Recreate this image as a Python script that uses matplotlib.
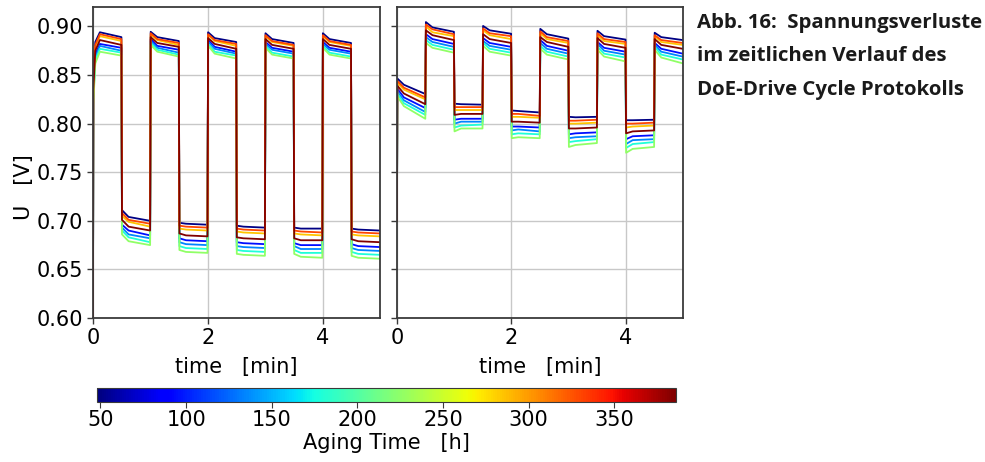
import matplotlib
matplotlib.use("Agg")
import matplotlib.pyplot as plt
import numpy as np
from matplotlib import cm, colors

# ---------------- data ----------------
aging_h = [50, 95, 135, 180, 225, 285, 330, 385]
cbar_ticks = [50, 100, 150, 200, 250, 300, 350]
y_ticks = [0.60, 0.65, 0.70, 0.75, 0.80, 0.85, 0.90]
x_ticks = [0, 2, 4]

t_left = [0, 0.005, 0.04, 0.12, 0.495, 0.505, 0.62, 0.995, 1.005, 1.12, 1.495,
          1.505, 1.62, 1.995, 2.005, 2.12, 2.495, 2.505, 2.62, 2.995, 3.005, 3.12,
          3.495, 3.505, 3.62, 3.995, 4.005, 4.12, 4.495, 4.505, 4.62, 4.995]

left_050 = [0.59, 0.845, 0.884, 0.894, 0.889, 0.711, 0.704, 0.700, 0.8945, 0.889, 0.885,
            0.698, 0.697, 0.696, 0.894, 0.888, 0.884, 0.695, 0.694, 0.693, 0.893, 0.887,
            0.883, 0.693, 0.692, 0.692, 0.893, 0.887, 0.883, 0.692, 0.691, 0.690]
left_095 = [0.59, 0.831, 0.871, 0.882, 0.878, 0.696, 0.690, 0.685, 0.887, 0.880, 0.876,
            0.682, 0.680, 0.679, 0.886, 0.879, 0.874, 0.678, 0.677, 0.676, 0.884, 0.878,
            0.874, 0.677, 0.675, 0.675, 0.884, 0.878, 0.874, 0.676, 0.674, 0.673]
left_135 = [0.59, 0.827, 0.868, 0.880, 0.875, 0.693, 0.686, 0.682, 0.885, 0.878, 0.873,
            0.678, 0.676, 0.675, 0.884, 0.877, 0.872, 0.674, 0.673, 0.672, 0.882, 0.876,
            0.872, 0.674, 0.671, 0.671, 0.882, 0.876, 0.872, 0.672, 0.670, 0.669]
left_180 = [0.59, 0.824, 0.865, 0.877, 0.873, 0.690, 0.683, 0.678, 0.883, 0.876, 0.871,
            0.674, 0.672, 0.671, 0.882, 0.874, 0.870, 0.670, 0.669, 0.668, 0.880, 0.873,
            0.869, 0.670, 0.667, 0.667, 0.880, 0.873, 0.869, 0.668, 0.666, 0.665]
left_225 = [0.59, 0.820, 0.862, 0.874, 0.870, 0.686, 0.679, 0.675, 0.881, 0.874, 0.869,
            0.670, 0.668, 0.667, 0.880, 0.872, 0.867, 0.666, 0.665, 0.664, 0.878, 0.871,
            0.867, 0.666, 0.663, 0.662, 0.878, 0.871, 0.867, 0.664, 0.662, 0.661]
left_285 = [0.59, 0.840, 0.879, 0.890, 0.885, 0.705, 0.699, 0.694, 0.8915, 0.886, 0.881,
            0.692, 0.691, 0.690, 0.891, 0.885, 0.880, 0.689, 0.688, 0.687, 0.890, 0.884,
            0.880, 0.687, 0.686, 0.685, 0.890, 0.884, 0.880, 0.686, 0.685, 0.684]
left_330 = [0.59, 0.842, 0.881, 0.892, 0.887, 0.708, 0.701, 0.697, 0.893, 0.887, 0.883,
            0.695, 0.694, 0.693, 0.892, 0.886, 0.882, 0.692, 0.691, 0.690, 0.891, 0.885,
            0.881, 0.690, 0.689, 0.688, 0.891, 0.885, 0.881, 0.689, 0.688, 0.687]
left_385 = [0.59, 0.835, 0.875, 0.886, 0.881, 0.701, 0.694, 0.690, 0.889, 0.883, 0.879,
            0.687, 0.685, 0.684, 0.888, 0.882, 0.877, 0.683, 0.682, 0.681, 0.887, 0.881,
            0.877, 0.682, 0.680, 0.680, 0.887, 0.881, 0.877, 0.681, 0.679, 0.678]

t_right = [0, 0.005, 0.12, 0.495, 0.505, 0.62, 0.995, 1.005, 1.12, 1.495, 1.505, 1.62,
           1.995, 2.005, 2.12, 2.495, 2.505, 2.62, 2.995, 3.005, 3.12, 3.495, 3.505,
           3.62, 3.995, 4.005, 4.12, 4.495, 4.505, 4.62, 4.995]

right_050 = [0.700, 0.8465, 0.840, 0.8305, 0.9045, 0.899, 0.8945, 0.8205, 0.820, 0.8195,
             0.9005, 0.896, 0.8925, 0.8135, 0.813, 0.8115, 0.8975, 0.892, 0.8875, 0.807,
             0.8065, 0.807, 0.8955, 0.890, 0.8865, 0.8035, 0.8035, 0.804, 0.8935, 0.889, 0.886]
right_095 = [0.700, 0.836, 0.827, 0.816, 0.892, 0.887, 0.882, 0.804, 0.805, 0.805, 0.888,
             0.883, 0.879, 0.797, 0.797, 0.796, 0.886, 0.880, 0.875, 0.789, 0.790, 0.791,
             0.884, 0.878, 0.874, 0.784, 0.787, 0.788, 0.883, 0.877, 0.872]
right_135 = [0.700, 0.833, 0.824, 0.812, 0.889, 0.884, 0.879, 0.800, 0.802, 0.802, 0.885,
             0.880, 0.876, 0.793, 0.794, 0.792, 0.883, 0.877, 0.872, 0.785, 0.786, 0.787,
             0.882, 0.875, 0.871, 0.779, 0.783, 0.784, 0.881, 0.874, 0.869]
right_180 = [0.700, 0.831, 0.821, 0.809, 0.886, 0.881, 0.876, 0.796, 0.798, 0.799, 0.883,
             0.877, 0.873, 0.789, 0.790, 0.789, 0.880, 0.874, 0.869, 0.781, 0.782, 0.784,
             0.879, 0.872, 0.868, 0.775, 0.779, 0.781, 0.879, 0.871, 0.866]
right_225 = [0.700, 0.828, 0.818, 0.805, 0.883, 0.878, 0.873, 0.792, 0.795, 0.795, 0.880,
             0.874, 0.870, 0.785, 0.786, 0.785, 0.877, 0.871, 0.866, 0.776, 0.778, 0.780,
             0.876, 0.869, 0.864, 0.770, 0.774, 0.776, 0.876, 0.868, 0.862]
right_285 = [0.700, 0.842, 0.835, 0.825, 0.900, 0.894, 0.890, 0.814, 0.814, 0.814, 0.896,
             0.891, 0.887, 0.807, 0.807, 0.806, 0.893, 0.887, 0.883, 0.800, 0.800, 0.801,
             0.891, 0.885, 0.882, 0.796, 0.797, 0.798, 0.890, 0.884, 0.881]
right_330 = [0.700, 0.844, 0.837, 0.827, 0.902, 0.897, 0.892, 0.817, 0.817, 0.817, 0.898,
             0.893, 0.890, 0.810, 0.810, 0.808, 0.895, 0.889, 0.885, 0.803, 0.803, 0.804,
             0.893, 0.887, 0.884, 0.800, 0.800, 0.801, 0.891, 0.886, 0.883]
right_385 = [0.700, 0.839, 0.831, 0.820, 0.896, 0.891, 0.886, 0.809, 0.810, 0.810, 0.892,
             0.887, 0.883, 0.802, 0.802, 0.801, 0.889, 0.884, 0.879, 0.795, 0.795, 0.796,
             0.888, 0.882, 0.878, 0.790, 0.792, 0.793, 0.887, 0.881, 0.877]

left_series = [left_050, left_095, left_135, left_180, left_225, left_285, left_330, left_385]
right_series = [right_050, right_095, right_135, right_180, right_225, right_285, right_330, right_385]

caption_lines = ["Abb. 16:  Spannungsverluste",
                 "im zeitlichen Verlauf des",
                 "DoE-Drive Cycle Protokolls"]

# ---------------- figure ----------------
W, H = 985, 462
fig = plt.figure(figsize=(W / 100, H / 100), dpi=100)
fig.patch.set_facecolor("white")

norm = colors.Normalize(vmin=48, vmax=386)
cmap = matplotlib.colormaps["jet"]

spine_col = "#3a3a3a"
grid_col = "#c8c8c8"
fs = 15

def px_axes(x0, x1, y0, y1):
    return fig.add_axes([x0 / W, 1 - y1 / H, (x1 - x0) / W, (y1 - y0) / H])

axL = px_axes(93, 380, 7, 318)
axR = px_axes(397, 683, 7, 318)

for ax, t, series in [(axL, t_left, left_series), (axR, t_right, right_series)]:
    for age, u in zip(aging_h, series):
        ax.plot(t, u, color=cmap(norm(age)), lw=1.3)
    ax.set_xlim(0, 5)
    ax.set_ylim(0.60, 0.92)
    ax.set_xticks(x_ticks)
    ax.set_yticks(y_ticks)
    ax.grid(True, color=grid_col, lw=1.0)
    ax.set_axisbelow(True)
    for s in ax.spines.values():
        s.set_color(spine_col)
        s.set_linewidth(1.3)
    ax.tick_params(labelsize=fs, color=spine_col, width=1.0, length=4, pad=3)
    ax.set_xlabel("time   [min]", fontsize=fs, labelpad=7)

axL.set_yticklabels([f"{v:.2f}" for v in y_ticks])
axL.set_ylabel("U   [V]", fontsize=fs, labelpad=2)
axL.yaxis.label.set_y(0.42)
axR.tick_params(labelleft=False)

cax = px_axes(97, 676, 388, 402)
sm = cm.ScalarMappable(norm=norm, cmap=cmap)
cb = fig.colorbar(sm, cax=cax, orientation="horizontal", ticks=cbar_ticks)
cb.ax.tick_params(labelsize=fs, length=4, color=spine_col, pad=2)
cb.outline.set_edgecolor(spine_col)
cb.set_label("Aging Time   [h]", fontsize=fs, labelpad=2)

cap_y = [28, 61, 95]
for line, yb in zip(caption_lines, cap_y):
    fig.text(697 / W, 1 - yb / H, line, fontsize=14.7, fontweight="bold",
             family=["Open Sans", "DejaVu Sans"], va="baseline", ha="left", color="#1a1a1a")

fig.savefig("out.png", dpi=100)
